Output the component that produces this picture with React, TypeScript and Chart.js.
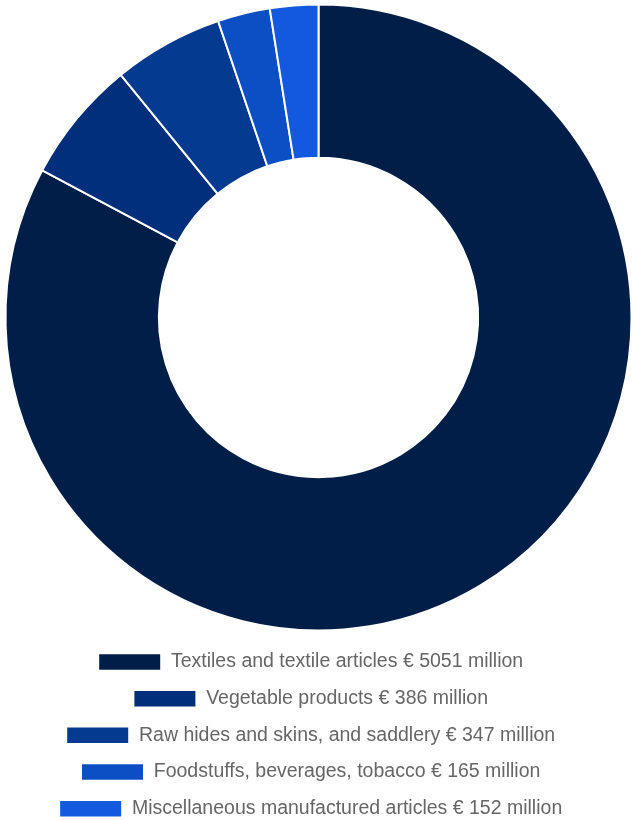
import React, { useEffect, useRef } from "react";
import { Chart, registerables } from "chart.js";

Chart.register(...registerables);

const categories = [
  "Textiles and textile articles",
  "Vegetable products",
  "Raw hides and skins, and saddlery",
  "Foodstuffs, beverages, tobacco",
  "Miscellaneous manufactured articles",
];
const values = [5051, 386, 347, 165, 152];
const unitPrefix = "€";
const unitSuffix = "million";
const colors = ["#001e48", "#012f7b", "#043b91", "#0c4fc4", "#1259e0"];

const labels = categories.map((c, i) => `${c} ${unitPrefix} ${values[i]} ${unitSuffix}`);

const shiftLegend = {
  id: "shiftLegend",
  afterLayout(chart: any) {
    const l = chart.legend;
    if (l) {
      l.left -= 7.8;
      l.right -= 7.8;
    }
  },
};

export default function App() {
  const ref = useRef<HTMLCanvasElement | null>(null);
  useEffect(() => {
    if (!ref.current) return;
    const chart = new Chart(ref.current, {
      type: "doughnut",
      data: {
        labels,
        datasets: [
          {
            data: values,
            backgroundColor: colors,
            borderColor: "#ffffff",
            borderWidth: 2,
          },
        ],
      },
      options: {
        animation: false,
        responsive: false,
        cutout: "51%",
        layout: { padding: { left: 4.5, right: 0.5, top: 0, bottom: -8.5 } },
        plugins: {
          tooltip: { enabled: false },
          legend: {
            position: "bottom",
            labels: {
              boxWidth: 63,
              boxHeight: 17.5,
              padding: 17.2,
              color: "#666666",
              font: { family: "'Liberation Sans', Arial, sans-serif", size: 19.5 },
            },
          },
        },
      },
      plugins: [shiftLegend],
    });
    return () => chart.destroy();
  }, []);
  return (
    <div style={{ position: "fixed", left: 0, top: 0, width: 633, height: 820, overflow: "hidden", background: "#fff" }}>
      <canvas ref={ref} width={633} height={820} style={{ display: "block", width: 633, height: 820 }} />
    </div>
  );
}
